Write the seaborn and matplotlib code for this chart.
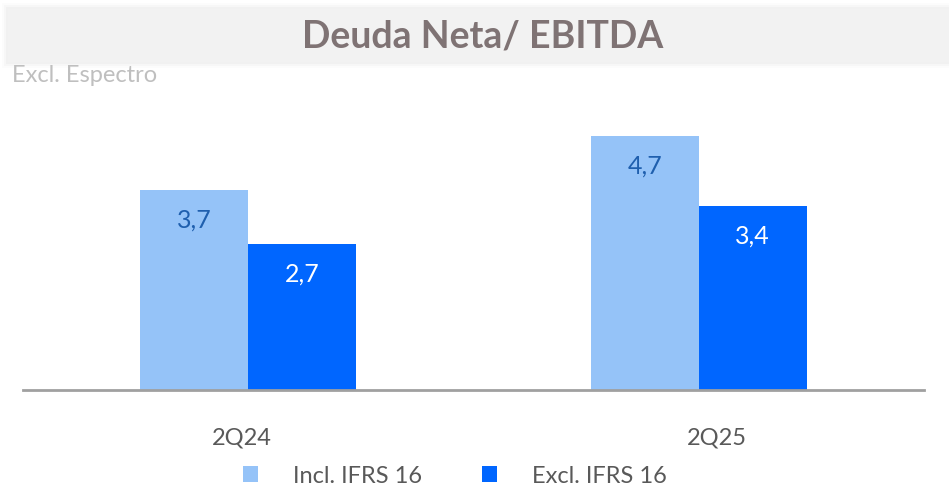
import pandas as pd
import matplotlib.pyplot as plt
import matplotlib.transforms as mtransforms
import seaborn as sns
from matplotlib.patches import Rectangle

# values
periods = ["2Q24", "2Q25"]
incl_ifrs16 = [3.7, 4.7]
excl_ifrs16 = [2.7, 3.4]
series_names = ["Incl. IFRS 16", "Excl. IFRS 16"]

df = pd.DataFrame({
    "periodo": periods * 2,
    "serie": [series_names[0]] * 2 + [series_names[1]] * 2,
    "valor": incl_ifrs16 + excl_ifrs16,
})

sns.set_theme(style="white")
plt.rcParams["font.family"] = ["Lato", "DejaVu Sans"]

fig = plt.figure(figsize=(9.49, 4.89), dpi=100)
W, H = 949, 489

# grey title band with soft shadow
for i, a in enumerate([0.025, 0.018, 0.012]):
    d = (i + 1) * 2
    fig.patches.append(Rectangle(((8 - d) / W, (H - 63 - d) / H), (W) / W, (53 + 2 * d) / H,
                                 transform=fig.transFigure, facecolor="#000000", alpha=a,
                                 edgecolor="none", zorder=0))
fig.patches.append(Rectangle((8 / W, (H - 63) / H), (W - 8) / W, 53 / H,
                             transform=fig.transFigure, facecolor="#f2f2f2",
                             edgecolor="none", zorder=1))
fig.text(483 / W, 1 - 37 / H, "Deuda Neta/ EBITDA", ha="center", va="center",
         fontsize=27, fontweight="bold", color="#7f7374")
fig.text(12 / W, 1 - 76 / H, "Excl. Espectro", ha="left", va="center",
         fontsize=17, color="#bfbfbf")

ax = fig.add_axes([23 / W, 1 - 391 / H, 901 / W, (391 - 94) / H])
sns.barplot(data=df, x="periodo", y="valor", hue="serie", ax=ax,
            palette=["#95c3f8", "#0066ff"], width=0.48, saturation=1,
            edgecolor="none", linewidth=0)

ax.set_xlim(-0.5, 1.5)
ax.set_ylim(0, 5.5)
ax.set_xlabel("")
ax.set_ylabel("")
ax.set_yticks([])
for s in ["top", "right", "left"]:
    ax.spines[s].set_visible(False)
ax.spines["bottom"].set_color("#a0a0a0")
ax.spines["bottom"].set_linewidth(2)
ax.tick_params(axis="x", length=0, pad=26, labelsize=17, labelcolor="#595959")

# the category labels in the original sit a bit off the group centres
for lbl, dx in zip(ax.get_xticklabels(), [-6, 18]):
    lbl.set_transform(lbl.get_transform() +
                      mtransforms.ScaledTranslation(dx / 100, 0, fig.dpi_scale_trans))

label_colors = ["#1f5fae", "white"]
for cont, col in zip(ax.containers, label_colors):
    for bar in cont:
        h = bar.get_height()
        ax.annotate(f"{h:.1f}".replace(".", ","),
                    (bar.get_x() + bar.get_width() / 2, h),
                    xytext=(0, -29), textcoords="offset pixels",
                    ha="center", va="center", fontsize=18, color=col)

handles, labels = ax.get_legend_handles_labels()
ax.legend_.remove()
fig.legend(handles, labels, loc="center", bbox_to_anchor=(455 / W, 1 - 477 / H),
           ncol=2, frameon=False, fontsize=17, labelcolor="#595959",
           handlelength=0.65, handleheight=0.65, handletextpad=1.5, columnspacing=2.5)

fig.savefig("out.png", dpi=100)
